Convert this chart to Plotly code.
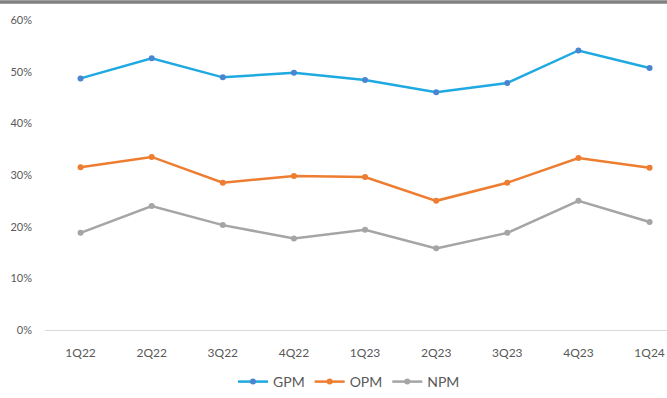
import plotly.graph_objects as go

quarters = ["1Q22", "2Q22", "3Q22", "4Q22", "1Q23", "2Q23", "3Q23", "4Q23", "1Q24"]
gpm = [48.7, 52.6, 48.9, 49.8, 48.4, 46.0, 47.8, 54.1, 50.7]
opm = [31.5, 33.5, 28.5, 29.8, 29.6, 25.0, 28.5, 33.3, 31.4]
npm = [18.8, 24.0, 20.3, 17.7, 19.4, 15.8, 18.8, 25.0, 20.9]
y_ticks = [0, 10, 20, 30, 40, 50, 60]
y_tick_labels = ["0%", "10%", "20%", "30%", "40%", "50%", "60%"]

series = [
    ("GPM", gpm, "#1FA9E1", "#4A86CF"),
    ("OPM", opm, "#ED7D31", "#ED7D31"),
    ("NPM", npm, "#A5A5A5", "#A5A5A5"),
]

fig = go.Figure()
for name, vals, lc, mc in series:
    fig.add_trace(go.Scatter(
        x=list(range(len(quarters))), y=vals, name=name, mode="lines+markers",
        line=dict(color=lc, width=2.5),
        marker=dict(color=mc, size=6),
    ))

L, T, B = 45, 20, 65
W, H = 667, 398
ph = H - T - B
pw = W - L

fig.update_layout(
    width=W, height=H,
    margin=dict(l=L, r=0, t=T, b=B, pad=0),
    paper_bgcolor="white", plot_bgcolor="white",
    font=dict(family="Lato, Open Sans, sans-serif", color="#595959", size=12),
    showlegend=True,
    legend=dict(orientation="h", x=(349 - L) / pw, xanchor="center",
                y=-(386 - (T + ph)) / ph, yanchor="middle",
                font=dict(size=14, color="#595959"), itemwidth=30,
                tracegroupgap=0),
    xaxis=dict(
        range=[-0.5, -0.5 + pw / 71.125],
        tickmode="array", tickvals=list(range(len(quarters))), ticktext=quarters,
        showgrid=False, zeroline=False, showline=True, linecolor="#D9D9D9",
        linewidth=1, ticks="", ticklabelstandoff=12, tickfont=dict(size=12),
    ),
    yaxis=dict(
        range=[0, 60], tickmode="array", tickvals=y_ticks, ticktext=y_tick_labels,
        showgrid=False, zeroline=False, showline=False, ticks="",
        tickfont=dict(size=11), ticklabelstandoff=12,
    ),
    shapes=[dict(
        type="rect", xref="paper", yref="paper",
        x0=-L / pw, x1=1, y0=1 + (T - 3.5) / ph, y1=1 + T / ph,
        fillcolor="#808080", line=dict(width=0),
    )],
)

fig.write_html("out.html")
